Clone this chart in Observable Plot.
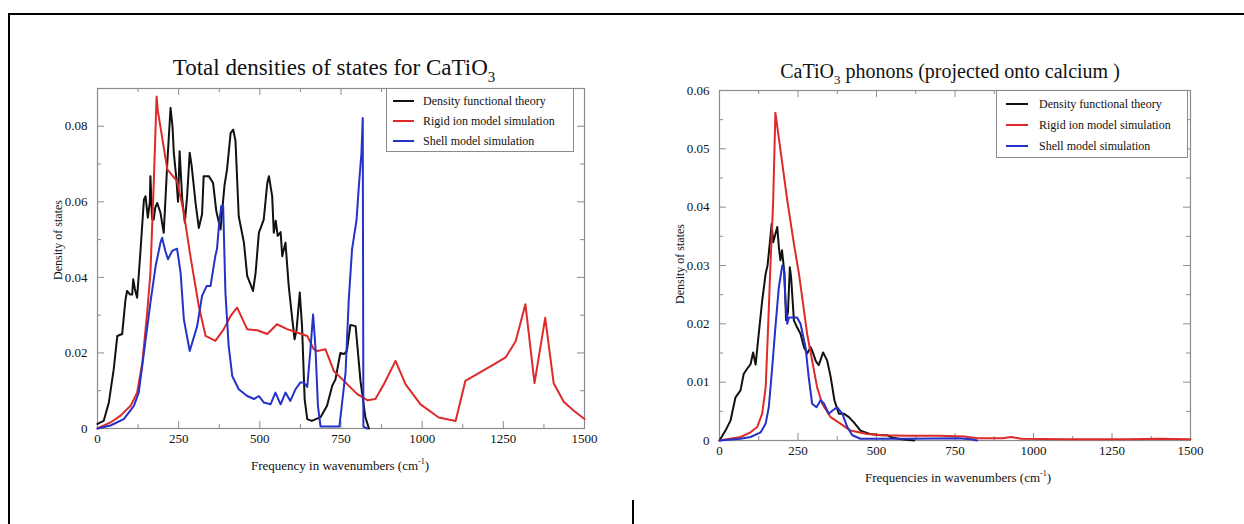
<!DOCTYPE html>
<html><head><meta charset="utf-8">
<script src="https://cdn.jsdelivr.net/npm/d3@7"></script>
<script src="https://cdn.jsdelivr.net/npm/@observablehq/plot@0.6"></script>
<style>
body{margin:0;background:#fff;}
#wrap{position:relative;width:1244px;height:524px;overflow:hidden;background:#fff;font-family:"Liberation Serif","Times New Roman",serif;color:#111;}
.rule{position:absolute;background:#000;}
.title{position:absolute;white-space:nowrap;transform:translateX(-50%);line-height:1;}
.xlab{position:absolute;white-space:nowrap;transform:translateX(-50%);font-size:13px;line-height:1;}
.ylab{position:absolute;white-space:nowrap;transform:translate(-50%,-50%) rotate(-90deg);font-size:12px;line-height:1;}
.legend{position:absolute;background:#fff;border:1px solid #8a8a8a;box-sizing:border-box;}
.row{position:absolute;left:0;display:flex;align-items:center;white-space:nowrap;font-size:12px;}
.row span.sw{display:inline-block;height:2px;}
sub{font-size:65%;vertical-align:-0.45em;}
sup{font-size:62%;vertical-align:0.7em;}
</style>
</head><body>
<div id="wrap"></div>
<script>
// ---------------- data ----------------
const seriesNames = ["Density functional theory", "Rigid ion model simulation", "Shell model simulation"];
const seriesColors = ["#111111", "#dd2a2a", "#2432c8"];

// x tick values (cm^-1)
const xMajorTicks = [0, 250, 500, 750, 1000, 1250, 1500];
const xMinorTicks = [125, 375, 625, 875, 1125, 1375];
// left panel y ticks
const totalYMajor = [0, 0.02, 0.04, 0.06, 0.08];
const totalYMinor = [0.01, 0.03, 0.05, 0.07];
// right panel y ticks
const caYMajor = [0, 0.01, 0.02, 0.03, 0.04, 0.05, 0.06];
const caYMinor = [0.005, 0.015, 0.025, 0.035, 0.045, 0.055];

// Left panel: total densities of states  [frequency, density]
const totalDFT = [[0,0.0012],[19,0.002],[35,0.0069],[50,0.0157],[61,0.0245],[76,0.025],[86,0.034],[91,0.0364],[100,0.0355],[107,0.0355],[110,0.0395],[115,0.037],[122,0.0346],[132,0.0465],[143,0.0606],[148,0.0615],[155,0.0558],[161,0.0597],[163,0.0668],[168,0.0555],[173,0.0553],[178,0.0585],[184,0.0597],[194,0.0571],[204,0.0518],[215,0.0703],[225,0.0849],[231,0.080],[235,0.073],[243,0.066],[248,0.060],[253,0.0734],[261,0.0606],[269,0.0545],[276,0.0615],[284,0.073],[290,0.0695],[302,0.0597],[312,0.0531],[322,0.0567],[327,0.0668],[343,0.0668],[356,0.065],[366,0.0575],[379,0.0527],[391,0.0642],[399,0.0686],[410,0.0782],[418,0.0791],[425,0.0762],[435,0.0562],[451,0.0492],[461,0.0404],[472,0.038],[479,0.0364],[487,0.0412],[497,0.0518],[512,0.0553],[523,0.065],[528,0.0668],[538,0.0615],[543,0.0518],[549,0.055],[555,0.051],[564,0.052],[569,0.0456],[579,0.0492],[589,0.0377],[600,0.0289],[607,0.0236],[613,0.026],[623,0.036],[630,0.0271],[638,0.0078],[646,0.0025],[660,0.002],[687,0.003],[707,0.006],[723,0.0113],[733,0.013],[748,0.020],[759,0.0197],[768,0.0205],[779,0.0274],[795,0.0271],[810,0.0126],[825,0.003],[836,0]];
const totalRigid = [[0,0],[40,0.0016],[71,0.0034],[102,0.006],[122,0.0095],[138,0.0174],[153,0.0307],[163,0.0412],[173,0.0642],[182,0.0879],[186,0.084],[215,0.0686],[245,0.0655],[266,0.0571],[286,0.0457],[312,0.0324],[333,0.0245],[363,0.0232],[389,0.0263],[410,0.0298],[430,0.032],[461,0.0263],[492,0.026],[523,0.025],[553,0.0276],[584,0.0263],[615,0.0254],[646,0.0245],[666,0.021],[677,0.0205],[702,0.021],[728,0.0152],[759,0.0126],[800,0.0091],[831,0.0075],[856,0.0078],[882,0.0117],[918,0.0179],[949,0.0117],[995,0.0064],[1051,0.0029],[1103,0.002],[1133,0.0126],[1169,0.0144],[1221,0.017],[1257,0.0188],[1288,0.0231],[1318,0.0329],[1346,0.012],[1379,0.0293],[1405,0.012],[1436,0.0071],[1467,0.0047],[1500,0.0025]];
const totalShell = [[0,0],[40,0.0008],[81,0.0025],[112,0.006],[127,0.0095],[143,0.020],[163,0.0333],[179,0.043],[194,0.0492],[199,0.0505],[209,0.047],[217,0.0448],[230,0.047],[245,0.0476],[256,0.0412],[266,0.0289],[284,0.0205],[307,0.0271],[322,0.0351],[336,0.0377],[348,0.0377],[363,0.0457],[368,0.0475],[374,0.0536],[381,0.0589],[387,0.059],[394,0.036],[404,0.0219],[415,0.0139],[435,0.0104],[461,0.0086],[482,0.0078],[497,0.0086],[512,0.0069],[533,0.0064],[548,0.0095],[564,0.0064],[579,0.0095],[594,0.0073],[610,0.0104],[625,0.0122],[635,0.0122],[646,0.011],[656,0.021],[664,0.0302],[671,0.0219],[679,0.006],[687,0.0005],[745,0.0005],[764,0.0148],[774,0.0342],[784,0.0474],[798,0.0553],[805,0.0642],[813,0.073],[817,0.0822],[819,0.0005],[830,0]];

// Right panel: phonon DOS projected onto calcium  [frequency, density]
const caDFT = [[0,0],[19,0.0017],[35,0.0034],[51,0.0074],[67,0.0086],[77,0.0114],[88,0.0123],[99,0.0131],[107,0.0151],[115,0.013],[125,0.0183],[136,0.024],[147,0.0286],[153,0.030],[160,0.0337],[166,0.0371],[171,0.034],[178,0.0354],[184,0.0366],[189,0.0332],[194,0.0309],[199,0.0326],[207,0.0286],[212,0.0206],[218,0.022],[224,0.0297],[228,0.028],[237,0.0206],[247,0.0194],[258,0.0183],[269,0.016],[279,0.0149],[290,0.016],[298,0.015],[306,0.0137],[316,0.0129],[330,0.0151],[343,0.0137],[354,0.0109],[366,0.0069],[380,0.0046],[396,0.0046],[412,0.004],[428,0.0031],[449,0.0017],[481,0.0011],[513,0.0009],[534,0.0009],[550,0.0005],[580,0.0002],[620,0]];
const caRigid = [[0,0],[67,0.0006],[99,0.0014],[120,0.0023],[136,0.0046],[147,0.0091],[154,0.0183],[162,0.0297],[171,0.0411],[178,0.0562],[216,0.0411],[237,0.0337],[253,0.0286],[269,0.0223],[279,0.0183],[295,0.0137],[311,0.0091],[327,0.0063],[354,0.004],[385,0.0029],[417,0.0017],[470,0.0011],[523,0.0009],[600,0.0008],[700,0.0008],[780,0.0007],[820,0.0004],[900,0.0004],[930,0.0006],[960,0.0003],[1100,0.0002],[1300,0.0002],[1400,0.0003],[1500,0.0002]];
const caShell = [[0,0],[67,0.0003],[99,0.0006],[131,0.0014],[147,0.0029],[157,0.0057],[168,0.0126],[178,0.0194],[189,0.0263],[200,0.030],[205,0.0294],[210,0.024],[216,0.020],[221,0.0211],[247,0.0211],[258,0.020],[274,0.016],[284,0.0109],[295,0.0063],[309,0.0057],[322,0.0069],[332,0.0064],[348,0.0046],[359,0.0051],[375,0.0057],[391,0.0046],[407,0.0023],[423,0.0009],[449,0.0003],[600,0.0003],[760,0.0004],[800,0.0002],[820,0]];

// ---------------- drawing ----------------
const wrap = document.getElementById("wrap");
const axisColor = "#8c8c8c";
const fmtY = d => d === 0 ? "0" : d3.format(".2f")(d);
const fmtX = d => String(d);

function el(tag, cls, style, html) {
  const e = document.createElement(tag);
  if (cls) e.className = cls;
  Object.assign(e.style, style || {});
  if (html != null) e.innerHTML = html;
  wrap.appendChild(e);
  return e;
}

function panel({left, top, width, height, mL, mT, mR, mB, yMax, yMajor, yMinor, series}) {
  const W = width - mL - mR, H = height - mT - mB;
  const major = 7, minor = 4;
  const svg = Plot.plot({
    width, height,
    marginLeft: mL, marginTop: mT, marginRight: mR, marginBottom: mB,
    x: {domain: [0, 1500]},
    y: {domain: [0, yMax]},
    style: {fontFamily: "'Liberation Serif', serif", fontSize: "13px", color: "#111", background: "transparent"},
    marks: [
      Plot.frame({stroke: axisColor, strokeWidth: 1.2}),
      // inward ticks, bottom and top
      Plot.tickX(xMajorTicks, {x: d => d, insetTop: H - major, stroke: axisColor}),
      Plot.tickX(xMinorTicks, {x: d => d, insetTop: H - minor, stroke: axisColor}),
      Plot.tickX(xMajorTicks, {x: d => d, insetBottom: H - major, stroke: axisColor}),
      Plot.tickX(xMinorTicks, {x: d => d, insetBottom: H - minor, stroke: axisColor}),
      // inward ticks, left and right
      Plot.tickY(yMajor, {y: d => d, insetRight: W - major, stroke: axisColor}),
      Plot.tickY(yMinor, {y: d => d, insetRight: W - minor, stroke: axisColor}),
      Plot.tickY(yMajor, {y: d => d, insetLeft: W - major, stroke: axisColor}),
      Plot.tickY(yMinor, {y: d => d, insetLeft: W - minor, stroke: axisColor}),
      Plot.axisX({ticks: xMajorTicks, tickSize: 0, tickPadding: 5, label: null, tickFormat: fmtX, fontSize: 13}),
      Plot.axisY({ticks: yMajor, tickSize: 0, tickPadding: 10, label: null, tickFormat: fmtY, fontSize: 13}),
      ...series.map((s, i) => Plot.line(s, {x: d => d[0], y: d => d[1], stroke: seriesColors[i], strokeWidth: 2, strokeLinejoin: "round"}))
    ]
  });
  svg.style.position = "absolute";
  svg.style.left = left + "px";
  svg.style.top = top + "px";
  svg.style.maxWidth = "none";
  wrap.appendChild(svg);
}

function legend({left, top, width, height, rowTop, rowGap, swLeft, swWidth, textLeft}) {
  const box = el("div", "legend", {left: left + "px", top: top + "px", width: width + "px", height: height + "px"});
  seriesNames.forEach((name, i) => {
    const row = document.createElement("div");
    row.className = "row";
    row.style.top = (rowTop + i * rowGap - 8) + "px";
    row.style.height = "16px";
    row.style.left = swLeft + "px";
    const sw = document.createElement("span");
    sw.className = "sw";
    sw.style.width = swWidth + "px";
    sw.style.background = seriesColors[i];
    sw.style.marginRight = (textLeft - swLeft - swWidth) + "px";
    row.appendChild(sw);
    const t = document.createElement("span");
    t.textContent = name;
    row.appendChild(t);
    box.appendChild(row);
  });
}

// frame of the page
el("div", "rule", {left: "8px", top: "13px", width: "1236px", height: "2px"});
el("div", "rule", {left: "8px", top: "13px", width: "2px", height: "511px"});
el("div", "rule", {left: "632px", top: "500px", width: "1.5px", height: "24px"});

// Left panel
panel({left: 0, top: 0, width: 620, height: 500, mL: 97, mT: 88, mR: 36, mB: 72,
       yMax: 0.09, yMajor: totalYMajor, yMinor: totalYMinor, series: [totalDFT, totalRigid, totalShell]});
el("div", "title", {left: "334px", top: "56px", fontSize: "23px"}, "Total densities of states for CaTiO<sub>3</sub>");
el("div", "xlab", {left: "340px", top: "458px"}, "Frequency in wavenumbers (cm<sup>-1</sup>)");
el("div", "ylab", {left: "58px", top: "240px"}, "Density of states");
legend({left: 386, top: 88, width: 188, height: 64, rowTop: 12, rowGap: 20, swLeft: 6, swWidth: 21, textLeft: 36});

// Right panel
panel({left: 620, top: 0, width: 624, height: 500, mL: 99, mT: 90, mR: 54, mB: 60,
       yMax: 0.06, yMajor: caYMajor, yMinor: caYMinor, series: [caDFT, caRigid, caShell]});
el("div", "title", {left: "950px", top: "61px", fontSize: "20px"}, "CaTiO<sub>3</sub> phonons (projected onto calcium )");
el("div", "xlab", {left: "958px", top: "470px"}, "Frequencies in wavenumbers (cm<sup>-1</sup>)");
el("div", "ylab", {left: "680px", top: "264px"}, "Density of states");
legend({left: 996, top: 90, width: 192, height: 68, rowTop: 13, rowGap: 21, swLeft: 9, swWidth: 22, textLeft: 42});
</script>
</body></html>
